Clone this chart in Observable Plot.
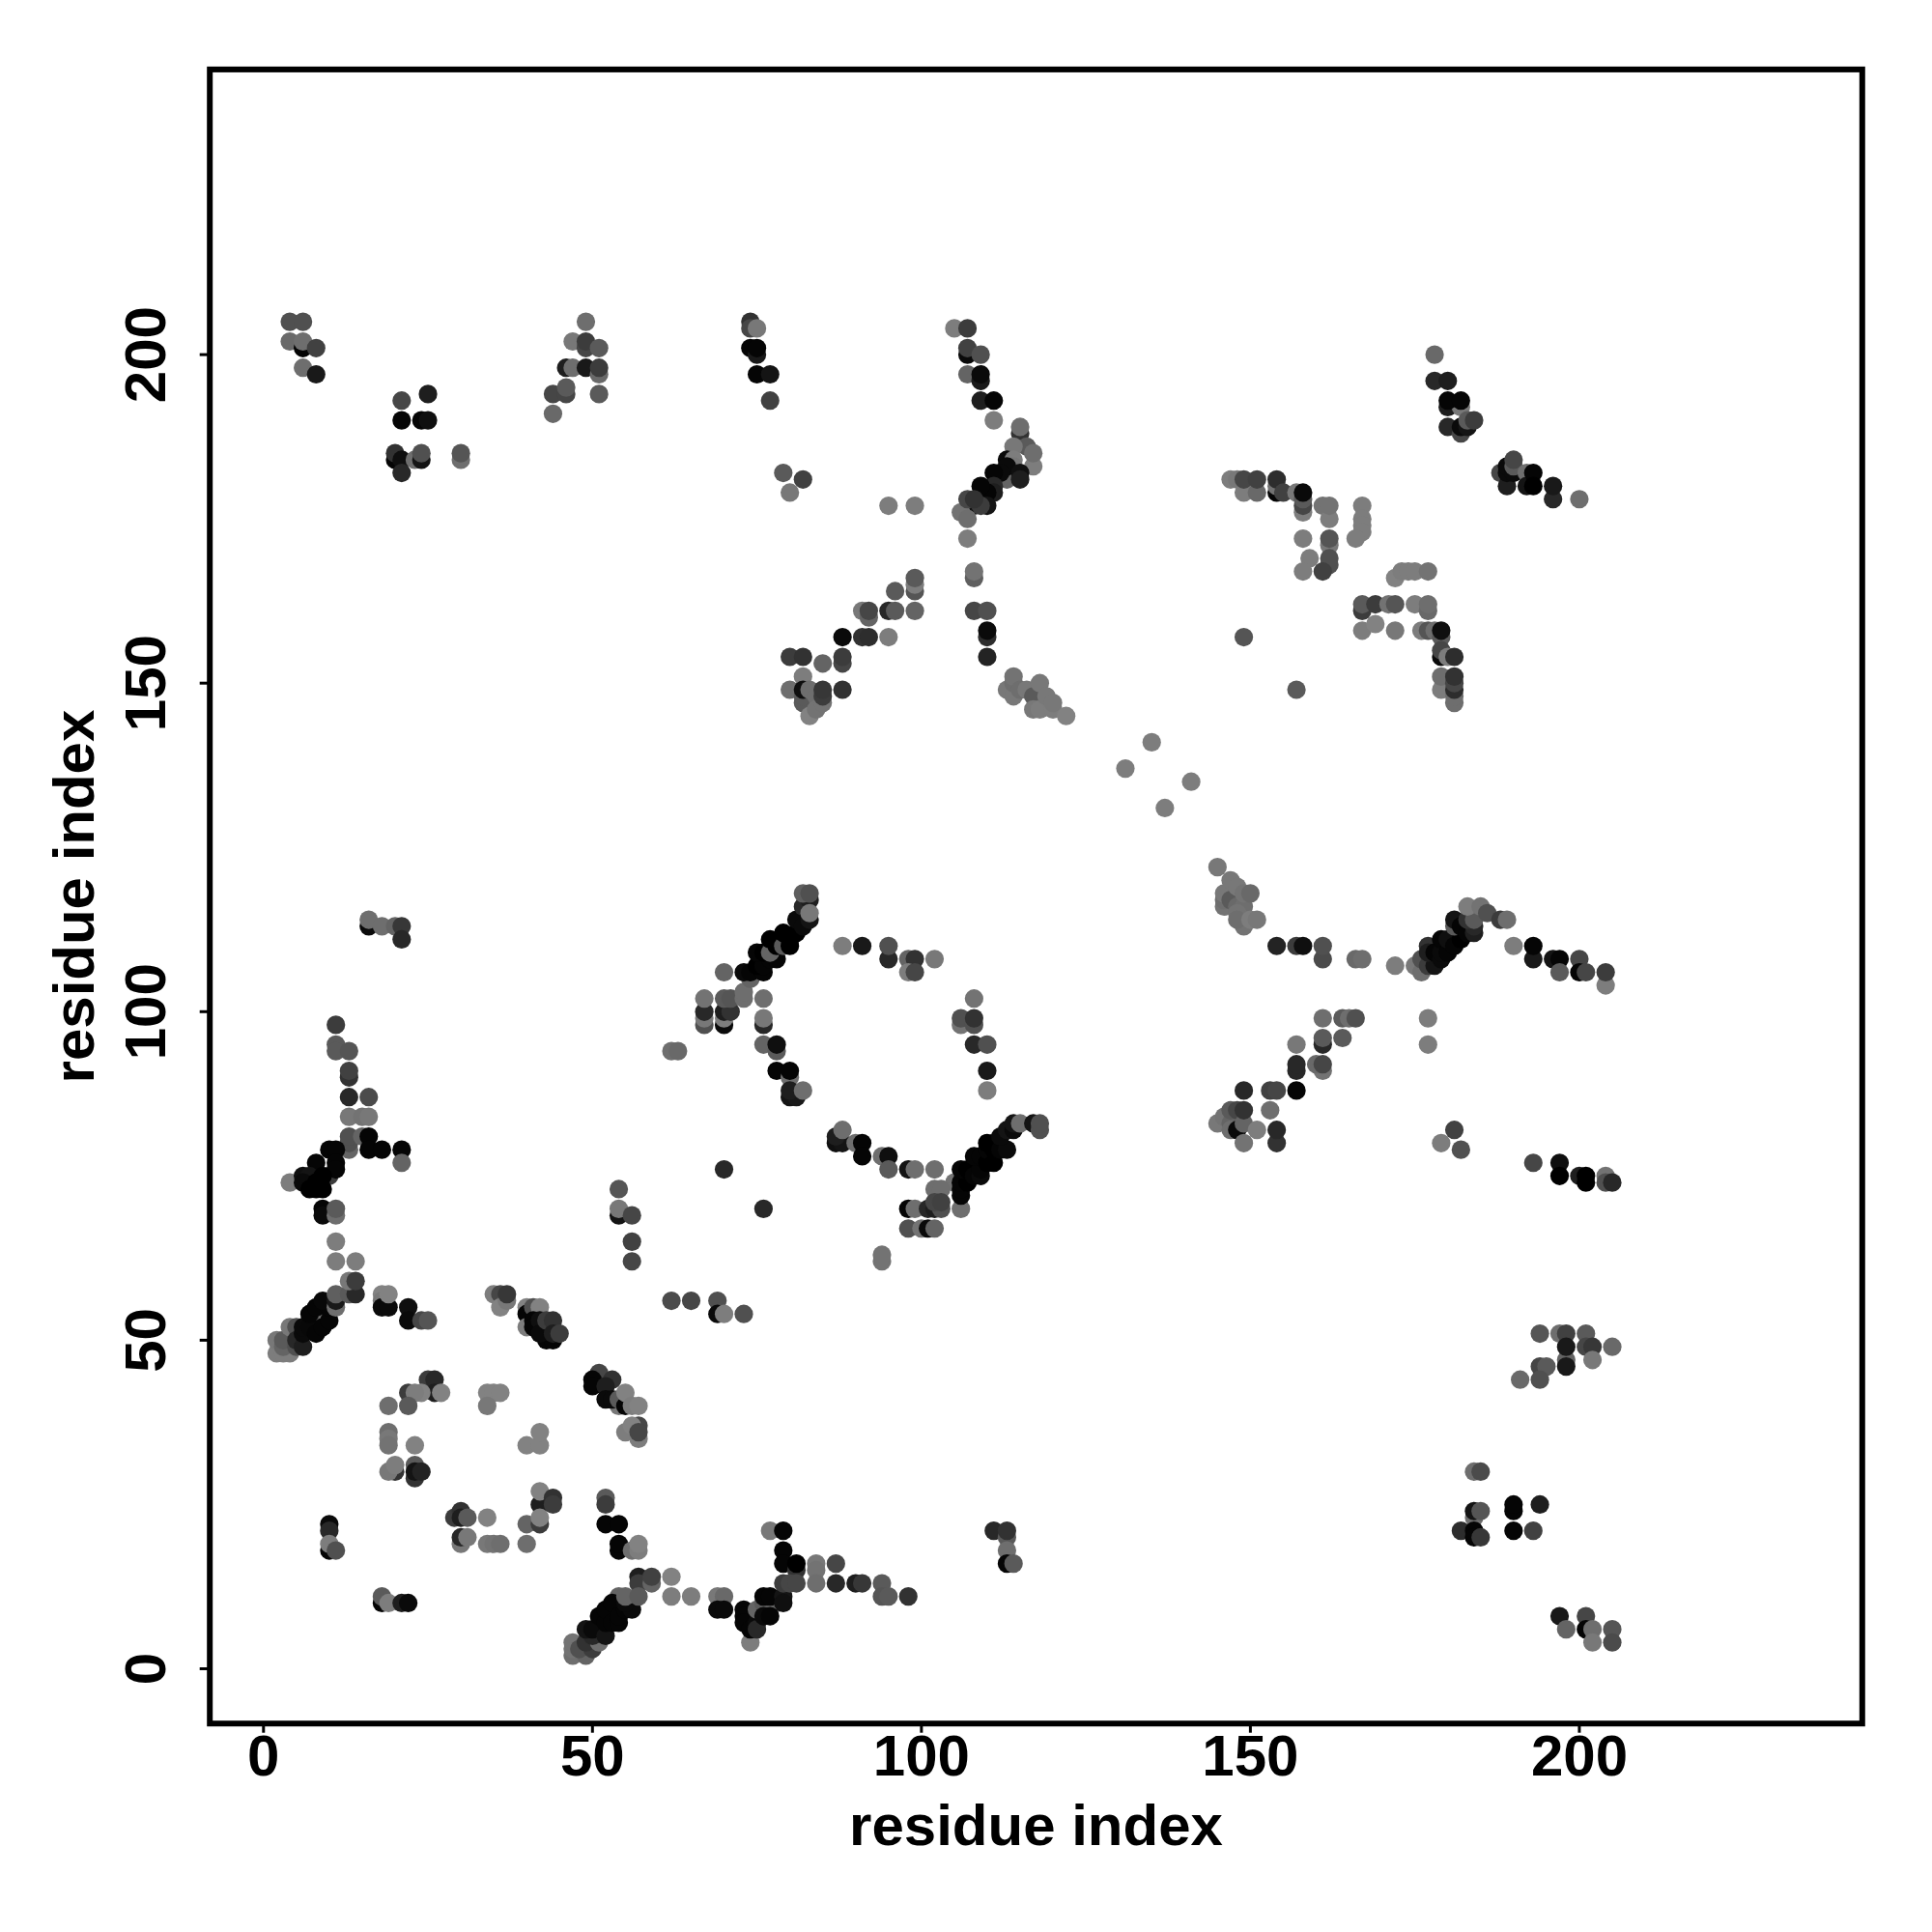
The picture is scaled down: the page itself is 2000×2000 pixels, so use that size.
<!DOCTYPE html>
<html><head><meta charset="utf-8">
<script src="https://cdn.jsdelivr.net/npm/d3@7"></script>
<script src="https://cdn.jsdelivr.net/npm/@observablehq/plot@0.6"></script>
<style>html,body{margin:0;padding:0;background:#fff}svg{display:block}</style>
</head><body><div id="chart"></div>
<script>
// each contact: [residue i, residue j, grey level]
const axisTicks = [0, 50, 100, 150, 200];
const axisTitle = "residue index";

const lowerBandA = [[2,48,125],[3,48,125],[4,48,125],[2,50,120],[3,49,100],[3,50,90],[5,49,80],[4,52,120],[5,52,80],[5,50,40],[6,49,30],[9,53,110],[7,53,90],[6,51,10],[6,52,10],[7,52,8],[8,51,5],[7,54,5],[9,52,5],[10,53,5],[8,55,5],[10,55,5],[9,56,8],[11,55,110],[11,56,25],[11,57,95],[13,57,90],[14,57,40],[13,59,120],[14,59,60],[11,62,125],[14,62,125],[11,65,125],[18,57,130],[18,56,120],[18,55,10],[19,55,10],[19,57,130],[22,55,15],[22,53,10],[24,53,70],[25,53,85]];
const lowerBandB = [[35,57,125],[36,57,70],[36,55,130],[37,56,120],[37,57,55],[40,55,130],[40,54,5],[41,55,80],[42,55,130],[40,52,125],[41,53,5],[41,52,5],[42,53,15],[43,50,5],[44,50,5],[42,51,10],[43,53,60],[44,53,50],[44,51,30],[45,51,60],[62,56,75],[65,56,70],[69,56,80],[69,54,10],[70,54,125],[73,54,80],[54,73,85],[54,69,20],[54,70,120],[56,69,70],[56,65,65],[56,62,70]];
const lowerRing = [[25,44,60],[26,44,40],[22,42,60],[26,42,30],[24,42,130],[23,42,125],[27,42,130],[19,40,110],[22,40,90],[34,42,130],[35,42,130],[36,42,130],[34,40,120],[19,36,110],[19,35,120],[19,34,115],[23,34,130],[20,30,50],[19,30,120],[20,31,125],[23,29,50],[23,31,90],[23,30,20],[24,30,35],[40,34,130],[42,34,130],[42,36,130],[42,25,30],[42,27,130],[44,26,50],[44,25,60],[40,22,100],[42,22,60],[42,23,130],[29,23,60],[30,24,50],[30,23,30],[31,23,90],[34,23,130],[30,19,120],[30,20,40],[31,20,120],[34,19,120],[35,19,115],[36,19,110],[40,19,110]];
const lowerDiagonal = [[51,45,70],[50,44,5],[50,43,5],[53,44,50],[52,43,30],[54,40,120],[52,41,10],[53,41,10],[54,41,90],[55,40,5],[55,42,130],[56,40,125],[57,40,130],[57,37,70],[55,36,125],[56,37,130],[57,35,125],[57,36,70]];
const lowerBandC = [[10,22,10],[10,21,40],[10,18,5],[10,19,125],[11,18,80],[18,10,5],[18,11,90],[19,10,125],[21,10,30],[22,10,10],[52,26,90],[52,25,60],[52,22,5],[54,22,5],[54,18,5],[54,19,5],[56,18,110],[57,18,125],[57,19,130],[57,14,30],[57,13,60],[59,13,100],[59,14,65],[62,14,130],[62,11,125],[65,11,125],[47,2,110],[47,3,115],[47,4,115],[49,2,100],[48,3,80],[50,3,60],[49,4,50],[51,4,110],[50,5,40],[49,6,20],[50,6,10],[52,5,20],[51,8,5],[53,9,90],[54,11,100],[52,7,5],[52,9,5],[53,10,5],[53,7,5],[54,7,5],[54,8,5],[55,9,5],[56,9,10],[55,10,10],[55,11,100],[57,11,90]];
const lowerMiddle = [[69,11,120],[70,11,105],[69,9,10],[70,9,10],[73,9,5],[73,8,5],[73,7,5],[74,4,125],[74,6,5],[75,7,10],[75,6,40],[75,9,100],[76,10,90],[78,10,100],[76,8,10],[77,8,5],[76,11,5],[77,11,5],[79,11,20],[79,10,15],[77,21,120],[79,21,5],[79,18,5],[79,16,5],[81,15,50],[81,16,0],[79,13,60],[80,13,70],[81,13,70],[84,16,120],[84,15,115],[84,13,110],[87,16,70],[87,13,40],[90,13,30],[91,13,55],[94,13,90],[94,11,85],[95,11,90],[98,11,50],[111,21,40],[113,20,90],[113,21,50],[113,18,110],[113,16,5],[114,16,90]];
const westCluster = [[16,113,10],[16,114,110],[18,113,110],[20,113,100],[21,113,55],[21,111,40],[11,98,60],[11,95,90],[11,94,90],[13,94,85],[13,90,50],[13,91,65],[13,87,40],[16,87,75],[13,84,120],[15,84,115],[16,84,120],[13,79,100],[13,80,80],[13,81,80],[15,81,100],[16,81,5],[16,79,5],[18,79,5],[21,79,5],[21,77,100],[10,75,60],[10,79,5],[11,79,5],[8,77,5],[11,77,5],[11,76,5],[4,74,125],[6,75,15],[7,75,20],[6,74,10],[7,73,0],[8,73,0],[9,73,0],[8,74,0],[9,75,0],[9,70,5],[9,69,10],[11,69,110],[11,70,90]];
const innerBand = [[62,94,110],[63,94,105],[70,76,40],[76,70,40],[67,98,80],[67,99,120],[67,100,40],[67,102,115],[70,98,10],[70,99,125],[70,100,30],[71,100,50],[70,102,90],[71,102,85],[73,102,110],[73,103,110],[70,106,100],[74,105,100],[73,106,10],[74,106,5],[76,106,5],[75,107,0],[76,107,5],[75,109,5],[77,108,5],[78,108,5],[76,109,0],[77,109,100],[77,111,0],[78,110,0],[79,110,90],[79,112,0],[80,110,0],[80,111,0],[81,112,0],[81,114,10],[82,113,10],[83,114,20],[82,116,40],[83,117,30],[83,115,120],[82,118,95],[83,118,80],[76,102,110],[76,98,40],[76,99,120],[76,95,100],[78,94,90],[78,95,15],[78,91,5],[80,90,110],[80,91,5],[80,87,20],[81,87,25],[80,88,30],[82,88,110]];
const innerArc = [[88,110,125],[91,110,25],[95,108,40],[95,110,80],[98,108,100],[99,108,50],[98,106,125],[99,106,70],[102,108,120],[108,102,115],[106,98,115],[106,99,80],[108,98,80],[108,99,50],[108,95,40],[110,95,80],[110,91,25],[110,88,125]];
const innerLower = [[87,80,15],[88,80,20],[87,81,30],[88,82,110],[90,80,110],[91,80,5],[91,78,5],[94,78,110],[95,78,15],[95,76,90],[98,76,20],[99,76,110],[102,76,110],[98,70,5],[99,70,110],[105,74,115],[102,73,110],[103,73,110],[101,70,40],[102,70,30],[103,70,80],[102,71,70],[103,71,65],[106,70,110],[98,67,80],[100,67,115],[101,67,10],[102,67,100],[94,62,115],[94,63,115],[107,75,120],[106,72,5],[106,73,5],[106,74,5],[107,74,0],[106,76,5],[107,76,0],[108,75,5],[109,75,10],[109,76,5],[108,78,5],[109,78,5],[110,77,0],[110,79,5],[111,77,0],[110,80,0],[111,80,0],[111,79,0],[112,79,5],[113,79,10],[112,81,10],[113,82,20],[114,82,10],[114,83,20],[115,83,110],[117,83,20],[118,82,80],[118,83,80]];
const eastBandA = [[145,122,120],[146,116,115],[146,117,110],[146,118,120],[147,120,120],[147,117,90],[148,119,120],[148,116,105],[149,116,110],[149,118,115],[150,118,105],[148,115,115],[149,113,115],[148,114,110],[150,114,125],[151,114,120],[154,110,35],[157,110,60],[158,110,15],[161,108,75],[161,110,80],[166,108,105],[167,108,110],[172,107,125],[175,107,120],[176,106,110],[176,108,80],[177,107,60],[178,107,20],[177,110,50],[177,109,30],[178,109,5],[179,108,10],[179,109,10],[179,111,5],[180,109,5],[180,111,15],[181,110,5],[182,111,0],[181,113,90],[181,114,20],[182,113,5],[183,112,5],[184,112,30],[184,113,40],[183,114,50],[184,114,90],[183,116,125],[185,116,115],[186,115,80],[188,114,60],[189,114,110],[190,110,125],[193,108,25],[193,110,5],[196,108,20],[197,108,5],[197,106,90],[200,108,70],[200,106,5],[201,106,70],[204,104,125],[204,106,60]];
const eastBandB = [[161,99,110],[164,99,90],[165,99,110],[166,99,80],[164,96,90],[161,95,40],[161,96,90],[157,95,120],[157,91,40],[157,92,40],[161,91,115],[160,92,105],[161,92,70],[149,88,40],[153,88,65],[154,88,70],[157,88,5],[153,85,110],[145,83,120],[146,84,115],[147,83,100],[147,85,90],[148,85,70],[147,82,110],[148,82,10],[149,83,100],[149,85,50],[151,82,125],[149,80,115],[154,80,50],[154,82,40],[177,99,125],[177,95,125],[179,80,125],[181,82,65],[182,79,80],[193,77,70],[197,77,15],[197,75,0],[200,75,30],[201,75,0],[201,74,0],[204,75,115],[204,74,80],[205,74,40]];
const eastLow = [[194,51,85],[197,51,110],[198,51,65],[201,51,90],[198,47,100],[198,46,25],[198,49,25],[201,49,70],[202,49,55],[205,49,105],[202,47,120],[194,46,70],[195,46,90],[194,44,80],[191,44,105],[184,30,110],[185,30,75],[184,23,110],[184,24,20],[185,24,85],[190,24,5],[190,25,5],[194,25,30],[190,21,5],[193,21,65],[182,21,45],[184,21,5],[184,20,5],[185,20,55],[197,8,25],[201,8,70],[198,6,100],[201,6,5],[202,6,110],[202,4,120],[205,6,85],[205,4,75]];
const northWest = [[4,205,80],[6,205,80],[4,202,105],[6,201,5],[6,202,110],[8,201,65],[6,198,110],[8,197,25],[21,193,70],[25,194,30],[21,190,5],[24,190,5],[25,190,15],[20,184,5],[20,185,50],[21,184,15],[21,182,40],[23,184,110],[24,184,20],[24,185,80],[30,184,110],[30,185,85],[49,205,110],[47,202,120],[49,201,70],[49,202,60],[51,201,90],[46,198,30],[47,198,110],[49,198,25],[51,197,105],[51,198,60],[51,194,90],[44,194,70],[46,194,70],[46,195,90],[44,191,105]];
const northMiddle = [[74,205,50],[74,204,70],[75,204,120],[74,201,5],[75,200,25],[75,201,5],[75,197,5],[77,197,20],[77,193,65],[79,182,90],[82,181,65],[80,179,120],[95,177,125],[99,177,125]];
const northArm = [[105,204,125],[107,204,60],[107,200,10],[107,201,65],[109,200,80],[107,197,100],[109,196,25],[109,197,10],[109,193,30],[111,193,5],[111,190,125],[115,188,50],[115,189,110],[116,186,90],[114,186,120],[117,183,125],[117,185,110],[113,184,10],[114,184,125],[114,183,120],[113,181,100],[113,183,10],[112,182,10],[115,182,15],[115,181,30],[111,182,5],[111,180,40],[111,179,30],[110,179,5],[109,180,5],[108,177,20],[110,177,20],[106,176,115],[107,175,110],[109,177,60],[107,178,70],[108,178,50],[107,172,125],[108,166,95],[108,167,115],[108,161,70],[110,161,80],[110,157,45],[110,158,10],[110,154,35]];
const northLeftArm = [[99,164,85],[99,165,125],[99,166,90],[96,164,90],[99,161,100],[95,161,40],[96,161,90],[91,161,120],[92,160,100],[92,161,70],[88,157,10],[91,157,50],[92,157,45],[95,157,125],[88,153,70],[88,154,60],[85,153,100],[80,154,60],[82,154,50],[82,151,125],[80,149,110],[88,149,50],[82,147,90],[82,148,90],[82,149,15],[83,149,110],[84,148,110],[83,145,130],[84,146,115],[85,147,115],[85,148,60],[85,149,55]];
const northRightArm = [[113,149,120],[114,148,120],[114,150,110],[114,151,115],[115,149,110],[116,149,120],[117,148,90],[118,150,120],[117,146,120],[118,146,125],[119,148,120],[120,146,125],[120,147,120],[122,145,130]];
const centreSparse = [[131,137,125],[135,141,125],[137,131,125],[141,135,125]];
const northEastA = [[178,200,105],[178,196,40],[180,196,30],[180,192,30],[182,192,120],[180,193,5],[182,193,5],[180,189,40],[182,188,70],[182,189,10],[183,189,20],[183,190,90],[184,190,60],[188,182,70],[189,180,30],[189,182,10],[189,183,10],[190,182,10],[190,183,90],[190,184,70],[192,182,110],[192,180,20],[193,182,5],[193,180,0],[196,178,40],[196,180,25],[200,178,110]];
const northEastB = [[147,181,125],[148,181,120],[149,179,125],[149,181,70],[151,179,105],[151,181,65],[154,179,5],[154,180,115],[154,181,45],[155,179,65],[157,179,120],[158,176,125],[158,177,70],[158,178,90],[158,179,10],[161,177,115],[162,175,125],[162,177,115],[167,177,125],[167,175,125],[167,174,125],[167,173,125],[166,172,125],[158,172,125],[162,171,120],[162,172,85],[162,168,80],[162,169,80],[159,169,125],[158,167,125],[161,167,65],[172,166,130],[173,167,125],[174,167,125],[175,167,125],[177,167,115]];
const northEastC = [[167,161,60],[167,162,90],[169,162,60],[171,162,115],[172,162,85],[175,162,125],[177,161,105],[177,162,110],[167,158,125],[169,159,130],[172,158,120],[176,158,125],[177,158,85],[178,158,110],[179,157,90],[179,158,15],[179,154,10],[179,155,70],[180,154,125],[181,154,45],[179,149,125],[179,151,110],[181,147,110],[181,148,110],[181,149,45],[181,150,70],[181,151,50],[149,157,85],[157,149,90]];

const contacts = [lowerBandA, lowerBandB, lowerRing, lowerDiagonal, lowerBandC, lowerMiddle, westCluster,
  innerBand, innerArc, innerLower, eastBandA, eastBandB, eastLow, northWest, northMiddle, northArm,
  northLeftArm, northRightArm, centreSparse, northEastA, northEastB, northEastC].flat()
  .map(([i, j, level]) => ({i, j, level}));

const plot = Plot.plot({
  width: 2000, height: 2000,
  marginLeft: 216.7, marginRight: 72.7, marginTop: 71.4, marginBottom: 216.3,
  style: {background: "#fff", fontFamily: "'Liberation Sans', Arial, sans-serif"},
  x: {domain: [-8.16, 243]},
  y: {domain: [-8.34, 243.4]},
  color: {type: "linear", domain: [0, 130], range: ["#000000", "#828282"]},
  marks: [
    Plot.dot(contacts, {x: "i", y: "j", r: 9.6, fill: "level", stroke: "none"}),
    Plot.frame({stroke: "#000", strokeWidth: 6}),
    Plot.axisX({ticks: axisTicks, tickSize: 10, tickPadding: 1, strokeWidth: 3, stroke: "#000", fontSize: 60, fontWeight: "bold", color: "#000",
      label: axisTitle, labelAnchor: "center", labelArrow: "none", labelOffset: 126}),
    Plot.axisY({ticks: axisTicks, tickSize: 10, tickRotate: -90, tickPadding: 36, strokeWidth: 3, stroke: "#000", fontSize: 60, fontWeight: "bold", color: "#000",
      label: axisTitle, labelAnchor: "center", labelArrow: "none", labelOffset: 163})
  ]
});
document.getElementById("chart").appendChild(plot);
</script></body></html>
